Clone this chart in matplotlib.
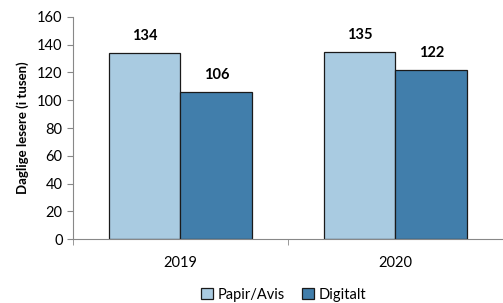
import numpy as np
import matplotlib.pyplot as plt

years = ["2019", "2020"]
papir = [134, 135]
digitalt = [106, 122]
series_names = ["Papir/Avis", "Digitalt"]
colors = ["#a9cbe1", "#417eab"]

plt.rcParams['font.family'] = ['Lato', 'DejaVu Sans']

fig = plt.figure(figsize=(5.03, 3.03), dpi=100)
ax = fig.add_axes([0.145, 0.211, 0.855, 0.733])

x = np.arange(len(years))
w = 1 / 3
b1 = ax.bar(x - w / 2, papir, w, color=colors[0], edgecolor="#1a1a1a", linewidth=0.9, label=series_names[0])
b2 = ax.bar(x + w / 2, digitalt, w, color=colors[1], edgecolor="#1a1a1a", linewidth=0.9, label=series_names[1])

for bars in (b1, b2):
    for r in bars:
        ax.annotate(str(int(r.get_height())), (r.get_x() + r.get_width() / 2, r.get_height()),
                    xytext=(0, 7), textcoords="offset points", ha="center", va="bottom",
                    fontsize=10.5, fontweight="bold")

ax.set_xlim(-0.5, 1.47)
ax.set_ylim(0, 160)
ax.set_yticks(range(0, 161, 20))
ax.set_xticks(x)
ax.set_xticklabels(years, fontsize=10.5)
ax.set_xticks([-0.5, 0.5, 1.5], minor=True)
ax.tick_params(axis="x", which="major", length=0, pad=12)
ax.tick_params(axis="x", which="minor", length=4, color="#888888", direction="out")
ax.tick_params(axis="y", labelsize=10.5, length=4, color="#888888", direction="out")
ax.set_ylabel("Daglige lesere (i tusen)", fontsize=9.5, fontweight="bold", labelpad=6)

for s in ("top", "right"):
    ax.spines[s].set_visible(False)
for s in ("left", "bottom"):
    ax.spines[s].set_color("#888888")

ax.legend(loc="upper center", bbox_to_anchor=(0.49, -0.16), ncol=2, frameon=False,
          fontsize=10.5, handlelength=0.8, handleheight=0.8, handletextpad=0.3, columnspacing=1.2)

fig.savefig("out.png", dpi=100)
